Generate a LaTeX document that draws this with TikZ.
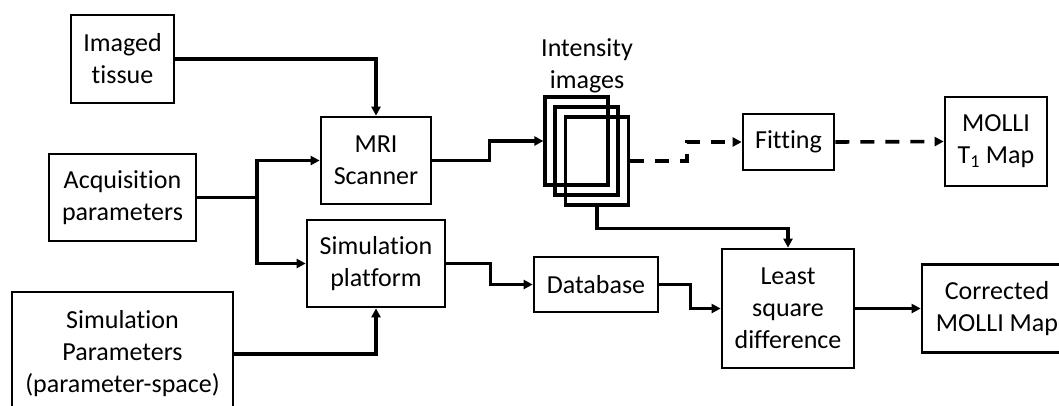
\documentclass[tikz,border=0pt]{standalone}
\usepackage{fontspec}
\setmainfont{Carlito}[Ligatures={NoCommon,NoRequired,NoContextual,NoRare}]
\usepackage{tikz}
\usetikzlibrary{arrows.meta,calc}

\begin{document}
\begin{tikzpicture}[
  x=1pt, y=-1pt,
  >={Triangle[length=9pt,width=9pt]},
  line join=miter,
  every node/.style={font=\fontsize{26}{32}\selectfont, align=center},
  blockbox/.style={draw, line width=2.7pt, inner sep=0pt},
  imgframe/.style={draw, line width=3.2pt, minimum width=63pt, minimum height=88pt, inner sep=0pt},
  link/.style={->, line width=3.6pt},
  dashlink/.style={->, line width=3.6pt, dash pattern=on 14pt off 11pt}
]
  \useasboundingbox (0,0) rectangle (1059,405);
  \clip (0,0) rectangle (1059,405);

  % Input blocks
  \node[blockbox, minimum width=103pt, minimum height=88pt]  (tissue) at (122.5, 59)   {Imaged\\tissue};
  \node[blockbox, minimum width=147pt, minimum height=87pt]  (acq)    at (122.5, 197.5) {Acquisition\\parameters};
  \node[blockbox, minimum width=221pt, minimum height=124pt] (simpar) at (122.5, 354)  {Simulation\\Parameters\\(parameter-space)};

  % Scanner and simulator
  \node[blockbox, minimum width=110pt, minimum height=87pt] (mri)     at (376, 160.5) {MRI\\Scanner};
  \node[blockbox, minimum width=138pt, minimum height=87pt] (simplat) at (376, 263.5) {Simulation\\platform};

  % Stack of intensity images
  \node[imgframe] (img1) at (576.5, 141) {};
  \node[imgframe] (img2) at (586.5, 151) {};
  \node[imgframe] (img3) at (597, 161)   {};
  \node (imglabel) at (587, 66) {Intensity\\images};

  % Output side
  \node[blockbox, minimum width=91pt,  minimum height=56pt]  (fit)   at (788.5, 142)  {Fitting};
  \node[blockbox, minimum width=102pt, minimum height=89pt]  (molli) at (996, 141.5)  {MOLLI\\T\textsubscript{1} Map};
  \node[blockbox, minimum width=124pt, minimum height=55pt]  (db)    at (596, 284.5)  {Database};
  \node[blockbox, minimum width=132pt, minimum height=119pt] (lsq)   at (788, 308.5)  {Least\\square\\difference};
  \node[blockbox, minimum width=150pt, minimum height=88pt]  (corr)  at (997, 308.5)  {Corrected\\MOLLI Map};

  \coordinate (jn) at (257, 197.5);

  % Connectors
  \draw[link] (tissue.east) -| (mri.north);
  \draw[line width=3.6pt] (acq.east) -- (jn);
  \draw[link] (jn) |- (mri.west);
  \draw[link] (jn) |- (simplat.west);
  \draw[link] (simpar.east) -| (simplat.south);
  \draw[link] (mri.east) -- ++(57,0) |- (img1.west);
  \draw[link] (simplat.east) -- ++(44,0) |- (db.west);
  \draw[link] (db.east) -- ++(31,0) |- (lsq.west);
  \draw[link] (img3.south) -- ++(0,22) -| (lsq.north);
  \draw[link] (lsq.east) -- (corr.west);

  % Fitting branch
  \draw[dashlink] (img3.east) -- ++(57,0) |- (fit.west);
  \draw[dashlink] (fit.east) -- (molli.west);
\end{tikzpicture}
\end{document}
